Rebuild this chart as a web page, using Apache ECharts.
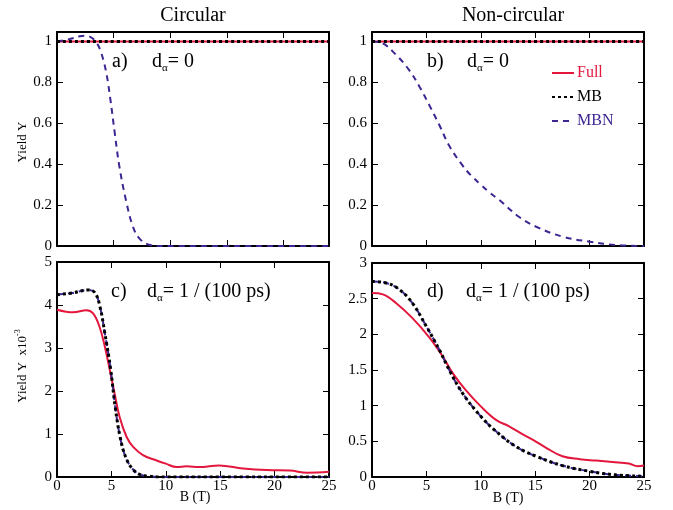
<!DOCTYPE html>
<html>
<head>
<meta charset="utf-8">
<script src="https://cdn.jsdelivr.net/npm/echarts@6/dist/echarts.min.js"></script>
<style>html,body{margin:0;padding:0;background:#fff}#c{width:673px;height:510px}</style>
</head>
<body>
<div id="c"></div>
<script>
// ---------- data ----------
// Panel a) Circular, d_alpha = 0
const aFullX = [0, 24];
const aFullY = [1, 1];
const aMBX = [0, 24];
const aMBY = [1, 1];
const aMBNX = [0, 1, 2, 2.5, 3, 3.4, 3.8, 4.3, 4.7, 5.1, 5.5, 6.1, 6.7, 7.3, 8.2, 9, 24];
const aMBNY = [1, 1.01, 1.025, 1.028, 1.02, 1.0, 0.96, 0.86, 0.72, 0.55, 0.39, 0.22, 0.095, 0.035, 0.005, 0, 0];
// Panel b) Non-circular, d_alpha = 0
const bFullX = [0, 25];
const bFullY = [1, 1];
const bMBX = [0, 25];
const bMBY = [1, 1];
const bMBNX = [0, 1, 2.2, 3.4, 4.35, 5.3, 6.2, 7.1, 8.3, 9.1, 10, 10.8, 11.7, 13.5, 15.1, 17.5, 20, 22.4, 25];
const bMBNY = [1, 0.99, 0.935, 0.861, 0.78, 0.685, 0.59, 0.49, 0.395, 0.345, 0.3, 0.262, 0.225, 0.143, 0.094, 0.046, 0.021, 0.005, 0];
// Panel c) Circular, d_alpha = 1/(100 ps)  (units 1e-3)
const cFullX = [0, 1.5, 2.7, 3.3, 3.9, 4.4, 4.85, 5.3, 5.75, 6.4, 7, 7.9, 9.1, 10, 11, 11.9, 13.1, 14.9, 17.1, 19.3, 21.4, 23, 25];
const cFullY = [3.89, 3.83, 3.88, 3.81, 3.5, 3.03, 2.49, 1.94, 1.4, 0.93, 0.7, 0.51, 0.39, 0.31, 0.23, 0.25, 0.23, 0.27, 0.2, 0.16, 0.15, 0.1, 0.12];
const cMBX = [0, 1.4, 2.9, 3.5, 3.95, 4.4, 4.9, 5.35, 5.8, 6.3, 6.9, 7.6, 8.4, 9.5, 25];
const cMBY = [4.24, 4.28, 4.35, 4.28, 3.96, 3.34, 2.56, 1.63, 0.93, 0.47, 0.2, 0.06, 0.02, 0, 0];
const cMBNX = [0, 1.4, 2.9, 3.5, 3.95, 4.4, 4.9, 5.35, 5.8, 6.3, 6.9, 7.6, 8.4, 9.5, 25];
const cMBNY = [4.24, 4.28, 4.35, 4.28, 3.96, 3.34, 2.56, 1.63, 0.93, 0.47, 0.2, 0.06, 0.02, 0, 0];
// Panel d) Non-circular, d_alpha = 1/(100 ps)
const dFullX = [0, 1, 2.2, 3.7, 5.3, 6.5, 7.4, 8.6, 10, 11.4, 12.6, 13.7, 14.8, 16, 17.5, 19.1, 20.6, 22.1, 23.6, 24.4, 25];
const dFullY = [2.58, 2.56, 2.44, 2.23, 1.95, 1.69, 1.46, 1.22, 0.99, 0.8, 0.71, 0.61, 0.52, 0.41, 0.29, 0.25, 0.23, 0.21, 0.19, 0.15, 0.16];
const dMBX = [0, 1.3, 2.5, 3.7, 5, 6.2, 7.1, 8.3, 10, 11.4, 13.2, 15.1, 17.5, 20, 22.4, 25];
const dMBY = [2.74, 2.72, 2.63, 2.44, 2.11, 1.78, 1.5, 1.18, 0.85, 0.64, 0.43, 0.29, 0.16, 0.08, 0.03, 0.01];
const dMBNX = [0, 1.3, 2.5, 3.7, 5, 6.2, 7.1, 8.3, 10, 11.4, 13.2, 15.1, 17.5, 20, 22.4, 25];
const dMBNY = [2.74, 2.72, 2.63, 2.44, 2.11, 1.78, 1.5, 1.18, 0.85, 0.64, 0.43, 0.29, 0.16, 0.08, 0.03, 0.01];

const seriesNames = ['Full', 'MB', 'MBN'];
const panelTitles = ['Circular', 'Non-circular'];
const panelLetters = ['a)', 'b)', 'c)', 'd)'];
const panelDalpha = ['= 0', '= 0', '= 1 / (100 ps)', '= 1 / (100 ps)'];
const xAxisName = 'B (T)';
const yAxisNameTop = 'Yield Y';
const yAxisNameBottom = 'Yield Y  x10';
const yAxisNameSup = '-3';

// ---------- styles ----------
const RED = '#e3173d';
const PURPLE = '#3e2591';
const FONT = 'Liberation Serif';

const zip = (xs, ys) => xs.map((x, i) => [x, ys[i]]);

const grids = [
  {left: 57, top: 32, width: 272, height: 214},
  {left: 372, top: 32, width: 272, height: 214},
  {left: 57, top: 262, width: 272, height: 215},
  {left: 372, top: 263, width: 272, height: 214}
];
const xMax = [24, 25, 25, 25];
const yMax = [1.046, 1.046, 5, 3];
const yInt = [0.2, 0.2, 1, 0.5];
const showXLabels = [false, false, true, true];

const axisLine = {show: true, onZero: false, lineStyle: {color: '#000', width: 2}};
const tickStyle = {show: true, inside: true, length: 6, lineStyle: {color: '#000', width: 1}};
const labelStyle = {fontFamily: FONT, fontSize: 15, color: '#000'};

function yFmt(p) {
  return function (v) {
    const k = v / yInt[p];
    if (Math.abs(k - Math.round(k)) > 1e-6) return '';
    return String(+v.toFixed(2));
  };
}

const xAxes = [], yAxes = [];
for (let p = 0; p < 4; p++) {
  xAxes.push({
    type: 'value', gridIndex: p, position: 'bottom', min: 0, max: xMax[p], interval: 5,
    axisLine: axisLine, axisTick: tickStyle, splitLine: {show: false},
    axisLabel: Object.assign({show: showXLabels[p], margin: 2,
      formatter: v => (v % 5 === 0 ? String(v) : '')}, labelStyle)
  });
  xAxes.push({
    type: 'value', gridIndex: p, position: 'top', min: 0, max: xMax[p], interval: 5,
    axisLine: axisLine, axisTick: tickStyle, splitLine: {show: false}, axisLabel: {show: false}
  });
  yAxes.push({
    type: 'value', gridIndex: p, position: 'left', min: 0, max: yMax[p], interval: yInt[p],
    axisLine: axisLine, axisTick: tickStyle, splitLine: {show: false},
    axisLabel: Object.assign({margin: 5, formatter: yFmt(p)}, labelStyle)
  });
  yAxes.push({
    type: 'value', gridIndex: p, position: 'right', min: 0, max: yMax[p], interval: yInt[p],
    axisLine: axisLine, axisTick: tickStyle, splitLine: {show: false}, axisLabel: {show: false}
  });
}

const panelData = [
  [zip(aFullX, aFullY), zip(aMBX, aMBY), zip(aMBNX, aMBNY)],
  [zip(bFullX, bFullY), zip(bMBX, bMBY), zip(bMBNX, bMBNY)],
  [zip(cFullX, cFullY), zip(cMBX, cMBY), zip(cMBNX, cMBNY)],
  [zip(dFullX, dFullY), zip(dMBX, dMBY), zip(dMBNX, dMBNY)]
];

const lineStyles = {
  Full: {color: RED, width: 2, type: 'solid'},
  MB: {color: '#000', width: 3, type: [3, 3]},
  MBN: {color: PURPLE, width: 2, type: [6, 5]}
};
const drawOrder = ['Full', 'MBN', 'MB'];

const series = [];
for (let p = 0; p < 4; p++) {
  drawOrder.forEach(name => {
    const idx = seriesNames.indexOf(name);
    series.push({
      type: 'line', name: name, xAxisIndex: 2 * p, yAxisIndex: 2 * p,
      data: panelData[p][idx], showSymbol: false, symbol: 'none',
      smooth: 0.4,
      lineStyle: lineStyles[name], itemStyle: {color: lineStyles[name].color},
      z: name === 'MB' ? 4 : (name === 'MBN' ? 3 : 2)
    });
  });
}

const annPos = [
  {lx: 112, dx: 152, y: 50},
  {lx: 427, dx: 467, y: 50},
  {lx: 111, dx: 147, y: 280},
  {lx: 427, dx: 466, y: 280}
];
const titles = [];
for (let p = 0; p < 4; p++) {
  titles.push({
    text: '{t|' + panelLetters[p] + '}', left: annPos[p].lx, top: annPos[p].y, padding: 0,
    textStyle: {fontWeight: 'normal', rich: {t: {fontFamily: FONT, fontWeight: 'normal', fontSize: 20, color: '#000', lineHeight: 24}}}
  });
  titles.push({
    text: '{t|d}{s|α}{t|' + panelDalpha[p] + '}', left: annPos[p].dx, top: annPos[p].y, padding: 0,
    textStyle: {fontWeight: 'normal', rich: {
      t: {fontFamily: FONT, fontWeight: 'normal', fontSize: 20, color: '#000', lineHeight: 24},
      s: {fontFamily: FONT, fontWeight: 'normal', fontSize: 11, color: '#000', lineHeight: 11, verticalAlign: 'bottom'}
    }}
  });
}

const graphic = [
  {type: 'text', x: 193, y: 16, style: {text: panelTitles[0], font: '20px "Liberation Serif"', fill: '#000', align: 'center', verticalAlign: 'middle', textAlign: 'center', textVerticalAlign: 'middle'}},
  {type: 'text', x: 513, y: 16, style: {text: panelTitles[1], font: '20px "Liberation Serif"', fill: '#000', align: 'center', verticalAlign: 'middle', textAlign: 'center', textVerticalAlign: 'middle'}},
  {type: 'text', x: 23, y: 142, rotation: Math.PI / 2, style: {text: yAxisNameTop, font: '13px "Liberation Serif"', fill: '#000', align: 'center', verticalAlign: 'middle', textAlign: 'center', textVerticalAlign: 'middle'}},
  {type: 'text', x: 23, y: 366, rotation: Math.PI / 2, style: {
    text: '{a|' + yAxisNameBottom + '}{s|' + yAxisNameSup + '}', align: 'center', verticalAlign: 'middle', textAlign: 'center', textVerticalAlign: 'middle',
    rich: {
      a: {fontFamily: FONT, fontSize: 13, fill: '#000', color: '#000', lineHeight: 18},
      s: {fontFamily: FONT, fontSize: 8, fill: '#000', color: '#000', lineHeight: 8, verticalAlign: 'top'}
    }}},
  {type: 'text', x: 195, y: 497, style: {text: xAxisName, font: '14px "Liberation Serif"', fill: '#000', align: 'center', verticalAlign: 'middle', textAlign: 'center', textVerticalAlign: 'middle'}},
  {type: 'text', x: 508, y: 498, style: {text: xAxisName, font: '14px "Liberation Serif"', fill: '#000', align: 'center', verticalAlign: 'middle', textAlign: 'center', textVerticalAlign: 'middle'}}
];

const legendColors = {Full: RED, MB: '#000', MBN: PURPLE};

const option = {
  animation: false,
  backgroundColor: '#fff',
  title: titles,
  grid: grids,
  xAxis: xAxes,
  yAxis: yAxes,
  legend: {
    orient: 'vertical', left: 546, top: 60, itemWidth: 22, itemHeight: 14, itemGap: 8,
    itemStyle: {opacity: 0},
    data: seriesNames.map(n => ({name: n, textStyle: {color: legendColors[n]}})),
    textStyle: {fontFamily: FONT, fontSize: 16, padding: [0, 0, 0, -2]}, selectedMode: false
  },
  series: series,
  graphic: graphic
};

const chart = echarts.init(document.getElementById('c'), null, {renderer: 'canvas'});
chart.setOption(option);
</script>
</body>
</html>
